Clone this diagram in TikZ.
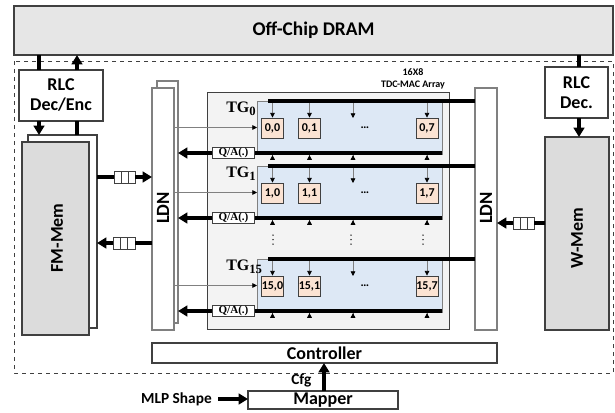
\documentclass[tikz,border=0pt]{standalone}
\usepackage{fontspec}
\setmainfont{Carlito}
\newfontfamily\serifb{Liberation Serif}
\usetikzlibrary{arrows.meta,calc}
\definecolor{dramfill}{HTML}{E6E6E6}
\definecolor{memfill}{HTML}{DCDCDC}
\definecolor{arrfill}{HTML}{F3F3F3}
\definecolor{grpfill}{HTML}{DDE8F5}
\definecolor{pefill}{HTML}{FBE3D3}
\definecolor{edge}{HTML}{404040}
\definecolor{ledge}{HTML}{808080}
\newcommand{\boxat}[7]{\node[#6, inner sep=0pt, outer sep=0pt, minimum width={(#4-#2)*0.75pt}, minimum height={(#5-#3)*0.75pt}] (#1) at ({(#2+#4)/2},{(#3+#5)/2}) {#7};}
\begin{document}
\begin{tikzpicture}[x=0.75pt,y=-0.75pt,font=\bfseries,
  blk/.style={draw=edge, line width=0.9pt, fill=white, align=center, font=\bfseries\fontsize{13.5}{15}\selectfont},
  ldnbox/.style={draw=ledge, line width=0.9pt, fill=white},
  mem/.style={draw=edge, line width=0.9pt, fill=memfill},
  grp/.style={draw=ledge, line width=0.7pt, fill=grpfill},
  pe/.style={draw=edge, line width=0.7pt, fill=pefill, inner sep=0pt, minimum width=16.5pt, minimum height=15pt, font=\bfseries\fontsize{9}{10}\selectfont},
  qa/.style={draw=edge, line width=0.6pt, fill=white, inner sep=0pt, minimum width=32pt, minimum height=8pt, font=\serifb\bfseries\fontsize{8.3}{9}\selectfont},
  qbox/.style={draw=edge, line width=0.7pt, fill=white, inner sep=0pt, minimum width=16pt, minimum height=9pt},
  bus/.style={line width=2.6pt},
  bigarrow/.style={line width=2.4pt, -{Triangle[length=7pt,width=8pt]}},
  bigline/.style={line width=2.4pt},
  thinarrow/.style={draw=ledge, line width=0.6pt, -{Triangle[length=3.5pt,width=3.5pt,fill=black,color=black]}},
  rottext/.style={rotate=90, font=\bfseries\fontsize{13.5}{15}\selectfont}
]
\useasboundingbox (0,0) rectangle (615,412);
% Off-chip DRAM and chip boundary
\boxat{dram}{14}{6}{613}{55}{blk, fill=dramfill, font=\bfseries\fontsize{14.5}{16}\selectfont}{Off-Chip DRAM}
\draw[dashed, line width=0.7pt, draw=edge] (14,61) rectangle (613,373);
% left side
\boxat{rlc1}{19}{70}{103}{121}{blk}{RLC\\Dec/Enc}
\boxat{fmb}{28}{135}{97}{328}{draw=edge, line width=0.9pt, fill=white}{}
\boxat{fm}{22}{142}{89}{335}{mem}{}
\node[rottext] (fmlabel) at (57,238) {FM-Mem};
\coordinate (c39) at (39,0);
\coordinate (c77) at (77,0);
\draw[bigline] (c39 |- dram.south) -- (c39 |- rlc1.north);
\draw[bigarrow] (c77 |- rlc1.north) -- (c77 |- dram.south);
\draw[bigarrow] (c39 |- rlc1.south) -- (c39 |- fmb.north);
\draw[bigline] (c77 |- fmb.north) -- (c77 |- rlc1.south);
% left LDN
\boxat{ldnLb}{157}{81}{178}{323}{ldnbox}{}
\boxat{ldnL}{152}{88}{174}{330}{ldnbox}{}
\node[rottext, font=\bfseries\fontsize{14}{15}\selectfont] (ldnLlabel) at (163,208) {LDN};
% queues left
\boxat{q1}{114}{171}{135}{183}{qbox}{}
\draw[line width=0.7pt, draw=edge] ($(q1.north west)!1/3!(q1.north east)$) -- ($(q1.south west)!1/3!(q1.south east)$)
  ($(q1.north west)!2/3!(q1.north east)$) -- ($(q1.south west)!2/3!(q1.south east)$);
\draw[bigline] (fmb.east |- q1.west) -- (q1.west);
\draw[bigarrow] (q1.east) -- (ldnL.west |- q1.east);
\boxat{q2}{113}{237}{135}{249}{qbox}{}
\draw[line width=0.7pt, draw=edge] ($(q2.north west)!1/3!(q2.north east)$) -- ($(q2.south west)!1/3!(q2.south east)$)
  ($(q2.north west)!2/3!(q2.north east)$) -- ($(q2.south west)!2/3!(q2.south east)$);
\draw[bigline] (ldnL.west |- q2.east) -- (q2.east);
\draw[bigarrow] (q2.west) -- (fmb.east |- q2.west);
% right side
\boxat{rlc2}{545}{67}{608}{118}{blk}{RLC\\Dec.}
\boxat{wm}{545}{137}{609}{330}{mem}{}
\node[rottext] (wmlabel) at (577,238) {W-Mem};
\coordinate (c579) at (579,0);
\draw[bigline] (c579 |- dram.south) -- (c579 |- rlc2.north);
\draw[bigarrow] (c579 |- rlc2.south) -- (c579 |- wm.north);
\boxat{ldnR}{475}{88}{497}{330}{ldnbox}{}
\node[rottext, font=\bfseries\fontsize{14}{15}\selectfont] (ldnRlabel) at (486,208) {LDN};
\boxat{q3}{513}{217}{534}{229}{qbox}{}
\draw[line width=0.7pt, draw=edge] ($(q3.north west)!1/3!(q3.north east)$) -- ($(q3.south west)!1/3!(q3.south east)$)
  ($(q3.north west)!2/3!(q3.north east)$) -- ($(q3.south west)!2/3!(q3.south east)$);
\draw[bigline] (wm.west |- q3.east) -- (q3.east);
\draw[bigarrow] (q3.west) -- (ldnR.east |- q3.west);
% array
\boxat{arr}{207}{92}{449}{329}{draw=edge, line width=0.7pt, fill=arrfill}{}
\node[font=\bfseries\fontsize{7.5}{8}\selectfont] (sz) at (413,72) {16X8};
\node[font=\bfseries\fontsize{7.5}{8}\selectfont] (arrname) at (413,85) {TDC-MAC Array};
\foreach \r/\b in {0/101,1/166,15/259} {
  \coordinate (bs\r) at (268,\b);
  \boxat{blue\r}{257}{\b+13}{442}{\b+40}{grp}{}
  \node[anchor=west, font=\serifb\bfseries\fontsize{12}{13}\selectfont, inner sep=0pt] (tg\r) at (226,\b+8) {TG\raisebox{-0.45ex}{\fontsize{9.5}{10}\selectfont\r}};
  \node[qa] (qa\r) at (233.5,\b+52) {Q/A(.)};
  \coordinate (oe\r) at (442,\b+52);
  \coordinate (mid\r) at (353,\b+17);
  \node[font=\bfseries\fontsize{9}{10}\selectfont] (dd\r) at (365,\b+27) {\ldots};
  \foreach \c/\x in {0/272.5,1/309.5,7/427} {
    \node[pe] (pe\r-\c) at (\x,\b+27) {\r,\c};
    \draw[thinarrow] (pe\r-\c.north |- bs\r) -- (pe\r-\c.north);
    \draw[thinarrow, shorten >=1.6pt] (pe\r-\c.south |- blue\r.south) -- (pe\r-\c.south |- oe\r);
  }
  \draw[thinarrow] (mid\r |- bs\r) -- (mid\r);
  \draw[thinarrow, shorten >=1.6pt] (mid\r |- blue\r.south) -- (mid\r |- oe\r);
  \draw[bus] (bs\r) -- (ldnR.west |- bs\r);
  \draw[bus] (qa\r.east) -- (oe\r);
  \draw[bigarrow] (qa\r.west) -- (ldnLb.east |- qa\r.west);
  \draw[thinarrow] (ldnL.east |- blue\r.west) -- (blue\r.west);
}
\foreach \x in {273,351,423} {
  \foreach \y in {235,239.5,244} \fill (\x,\y) circle (0.75);
}
% controller and mapper
\boxat{ctrl}{152}{343}{497}{363}{blk}{Controller}
\boxat{mapper}{248}{391}{398}{409}{blk}{Mapper}
\coordinate (c324) at (324,0);
\draw[bigarrow] (c324 |- mapper.north) -- (c324 |- ctrl.south);
\node[font=\bfseries\fontsize{11.5}{12}\selectfont, anchor=east] (cfg) at (316,380) {Cfg};
\node[font=\bfseries\fontsize{11.5}{12}\selectfont, anchor=east, inner sep=0pt] (mlp) at (212,399) {MLP Shape};
\draw[bigarrow] ([xshift=4.5pt]mlp.east) -- (mapper.west |- mlp.east);
\end{tikzpicture}
\end{document}
